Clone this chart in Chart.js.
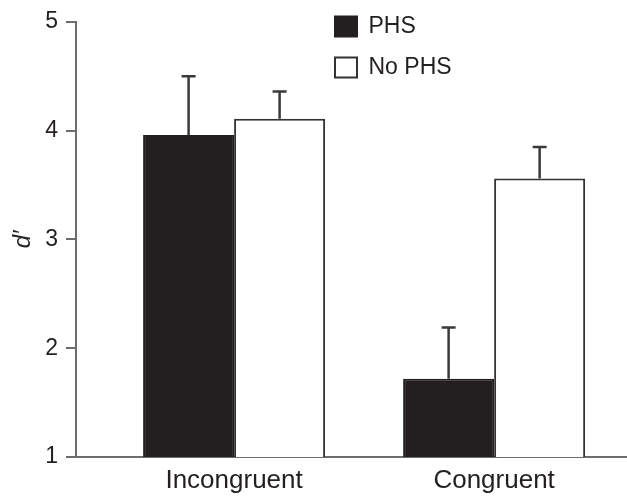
<!DOCTYPE html>
<html>
<head>
<meta charset="utf-8">
<script src="https://cdn.jsdelivr.net/npm/chart.js@4.4.1/dist/chart.umd.min.js"></script>
<style>
  html, body { margin: 0; padding: 0; background: #fff; }
  #wrap { width: 627px; height: 496px; position: relative; }
</style>
</head>
<body>
<div id="wrap"><canvas id="chart"></canvas></div>
<script>
// values
const categories = ['Incongruent', 'Congruent'];
const phsValues = [3.96, 1.72];
const noPhsValues = [4.11, 3.56];
// top of the (upper-only) error bars
const phsErrorTop = [4.50, 2.19];
const noPhsErrorTop = [4.36, 3.85];
const yTicks = [1, 2, 3, 4, 5];

const ink = '#231f20';
const axisGray = '#6d6d6d';
const fontFamily = '"Liberation Sans", Arial, Helvetica, sans-serif';

// place categories at x = 1, 2 on a linear axis
function toPoints(values) {
    return values.map((v, i) => ({ x: i + 1, y: v }));
}

/**
 * Draws upward error bars with a small cap
 */
const errorBars = {
    id: 'errorBars',
    afterDatasetsDraw(chart) {
        const ctx = chart.ctx;
        const yScale = chart.scales.y;
        chart.data.datasets.forEach((dataset, di) => {
            const meta = chart.getDatasetMeta(di);
            meta.data.forEach((bar, i) => {
                const top = yScale.getPixelForValue(dataset.errorTop[i]);
                ctx.save();
                ctx.strokeStyle = '#3a3a3a';
                ctx.lineWidth = 2.5;
                ctx.beginPath();
                ctx.moveTo(bar.x, bar.y);
                ctx.lineTo(bar.x, top);
                ctx.moveTo(bar.x - 7, top);
                ctx.lineTo(bar.x + 7, top);
                ctx.stroke();
                ctx.restore();
            });
        });
    }
};

/**
 * Moves the chartArea legend to the upper middle of the plot
 */
const legendSpot = {
    id: 'legendSpot',
    afterLayout(chart) {
        const legend = chart.legend;
        if (!legend) return;
        const dx = 317 - legend.left;
        const dy = -3 - legend.top;
        legend.left += dx;
        legend.right += dx;
        legend.top += dy;
        legend.bottom += dy;
    }
};

new Chart(document.getElementById('chart').getContext('2d'), {
    type: 'bar',
    data: {
        datasets: [{
            label: 'PHS',
            data: toPoints(phsValues),
            errorTop: phsErrorTop,
            backgroundColor: ink,
            borderColor: ink,
            borderWidth: 2
        }, {
            label: 'No PHS',
            data: toPoints(noPhsValues),
            errorTop: noPhsErrorTop,
            backgroundColor: '#ffffff',
            borderColor: '#333333',
            borderWidth: 2
        }]
    },
    options: {
        responsive: true,
        maintainAspectRatio: false,
        animation: false,
        layout: {
            padding: { top: 20, right: 0, bottom: 0, left: 0 }
        },
        datasets: {
            bar: {
                categoryPercentage: 0.7,
                barPercentage: 1.0
            }
        },
        scales: {
            x: {
                type: 'linear',
                min: 0.392,
                max: 2.511,
                offset: false,
                afterBuildTicks: (axis) => {
                    axis.ticks = categories.map((c, i) => ({ value: i + 1 }));
                },
                afterFit: (axis) => {
                    axis.height = 39;
                },
                grid: {
                    display: false,
                    drawTicks: false,
                    offset: false
                },
                border: {
                    display: true,
                    color: axisGray,
                    width: 2
                },
                ticks: {
                    padding: 8,
                    color: ink,
                    maxRotation: 0,
                    autoSkip: false,
                    font: { family: fontFamily, size: 26 },
                    callback: (value) => categories[value - 1]
                }
            },
            y: {
                min: 1,
                max: 5,
                afterBuildTicks: (axis) => {
                    axis.ticks = yTicks.map(v => ({ value: v }));
                },
                afterFit: (axis) => {
                    axis.width = 76;
                },
                grid: {
                    display: true,
                    drawOnChartArea: false,
                    drawTicks: true,
                    tickLength: 10,
                    color: axisGray,
                    lineWidth: 2
                },
                border: {
                    display: true,
                    color: axisGray,
                    width: 2
                },
                ticks: {
                    padding: 8,
                    color: ink,
                    font: { family: fontFamily, size: 23 }
                },
                title: {
                    display: true,
                    text: 'd\u2032',
                    color: ink,
                    padding: { top: 9, bottom: 0 },
                    font: { family: fontFamily, size: 24, style: 'italic' }
                }
            }
        },
        plugins: {
            legend: {
                position: 'chartArea',
                align: 'start',
                labels: {
                    boxWidth: 22,
                    boxHeight: 20,
                    padding: 18,
                    color: ink,
                    font: { family: fontFamily, size: 23 }
                }
            },
            tooltip: { enabled: false }
        }
    },
    plugins: [errorBars, legendSpot]
});
</script>
</body>
</html>
